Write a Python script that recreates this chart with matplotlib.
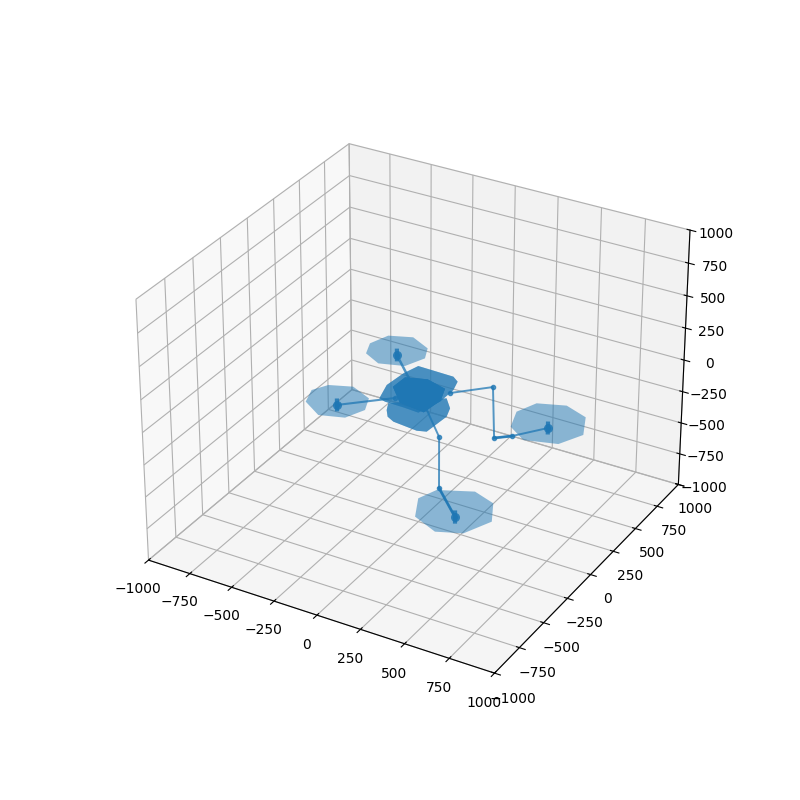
import numpy as np
import matplotlib
matplotlib.use('Agg')
import matplotlib.pyplot as plt
from mpl_toolkits.mplot3d.art3d import Poly3DCollection

limits = [-1000, 1000]

# Outlines: x values, y values, one height each
top_x = [-157, -193, -180, -152, 58, 102, 125, 125, 85, -7, -115]
top_y = [-121, 14, 159, 263, 257, 223, 138, 2, -147, -139, -136]
top_z = 0
low_x = [-131, -158, 73, 138, 164, 151, 103, -43, -93]
low_y = [-93, -31, 161, 82, 1, -178, -195, -176, -148]
low_z = -100
mid_x = [-190, -185, -75, 50, 90, 75, -80]
mid_y = [70, 185, 225, 185, 70, -75, -50]
mid_z = -50
disc_z = -400
front_x = [321, 249, 289, 462, 594, 670, 602, 474]
front_y = [-588, -432, -318, -236, -287, -440, -603, -659]
right_x = [311, 264, 313, 460, 601, 673, 605, 431]
right_y = [411, 561, 689, 746, 689, 524, 380, 326]
back_x = [-728, -766, -724, -598, -470, -428, -479, -616]
back_y = [702, 807, 930, 981, 914, 812, 687, 641]
left_x = [-737, -774, -725, -603, -469, -425, -474, -608]
left_y = [103, 222, 311, 361, 297, 183, 64, 18]

# Arm paths
arm_front_x = [4, 293, 290, 493]
arm_front_y = [10, -302, -296, -493]
arm_front_z = [0, 0, -400, -400]
arm_right_x = [125, 284, 292, 362, 483]
arm_right_y = [103, 265, 269, 332, 495]
arm_right_z = [0, 0, -400, -400, -400]
arm_back_x = [-43, -576]
arm_back_y = [41, 769]
arm_back_z = [0, -400]
arm_left_x = [-90, -578]
arm_left_y = [-79, 155]
arm_left_z = [0, -400]
# Thicker lower parts of the arms
strut_front_x = [290, 493]
strut_front_y = [-296, -493]
strut_right_x = [292, 362]
strut_right_y = [269, 332]
strut_z = [-400, -400]

hub_x = [493, 483, -576, -578]
hub_y = [-493, 495, 769, 155]
hub_z = [-400, -400, -400, -400]

fig = plt.figure(figsize=(8, 8), dpi=100)
ax = fig.add_subplot(projection='3d')
ax.set_xlim(limits)
ax.set_ylim(limits)
ax.set_zlim(limits)

def poly(xs, ys, z, alpha=0.5, repeat=1):
    verts = [list(zip(xs, ys, [z] * len(xs)))]
    for _ in range(repeat):
        ax.add_collection3d(Poly3DCollection(verts, facecolor='C0', edgecolor='none', alpha=alpha))

for xs, ys in [(front_x, front_y), (right_x, right_y), (back_x, back_y), (left_x, left_y)]:
    poly(xs, ys, disc_z)
poly(top_x, top_y, top_z, alpha=0.55, repeat=2)
poly(low_x, low_y, low_z, alpha=0.55, repeat=2)
poly(mid_x, mid_y, mid_z, alpha=0.6, repeat=4)

for xs, ys, zs, lw in [(arm_front_x, arm_front_y, arm_front_z, 1.4),
                       (arm_right_x, arm_right_y, arm_right_z, 1.4),
                       (arm_back_x, arm_back_y, arm_back_z, 1.8),
                       (arm_left_x, arm_left_y, arm_left_z, 1.5)]:
    ax.plot(xs, ys, zs, color='C0', alpha=0.75, lw=lw, marker='o', ms=3)
for xs, ys in [(strut_front_x, strut_front_y), (strut_right_x, strut_right_y)]:
    ax.plot(xs, ys, strut_z, color='C0', alpha=0.8, lw=2)
for x, y, z in zip(hub_x, hub_y, hub_z):
    ax.plot([x, x], [y, y], [z - 35, z + 35], color='C0', alpha=0.85, lw=3)
    ax.plot([x], [y], [z], color='C0', alpha=0.85, marker='o', ms=6.5, mew=0)

fig.savefig('out.png', dpi=100)
